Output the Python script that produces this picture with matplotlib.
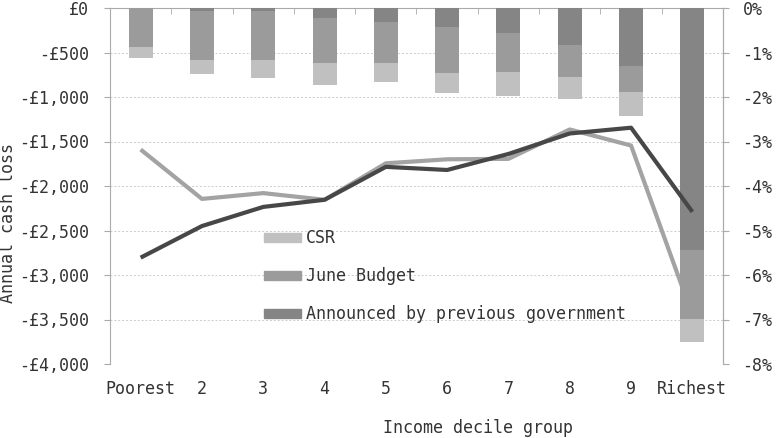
import matplotlib
matplotlib.use("Agg")
import matplotlib.pyplot as plt
from matplotlib.patches import Patch
from matplotlib.transforms import Affine2D
import numpy as np

deciles = ["Poorest", "2", "3", "4", "5", "6", "7", "8", "9", "Richest"]

# annual cash loss per component, £ (stacked from the zero line down)
announced = [0, -34, -34, -112, -157, -213, -285, -419, -652, -2719]
june_budget = [-438, -551, -551, -502, -457, -513, -435, -360, -292, -779]
csr = [-120, -161, -202, -251, -213, -225, -270, -240, -266, -252]

# loss as share of income, %
pct_light = [-3.18, -4.29, -4.16, -4.31, -3.49, -3.40, -3.39, -2.73, -3.09, -6.90]
pct_dark = [-5.61, -4.90, -4.47, -4.31, -3.57, -3.64, -3.28, -2.82, -2.69, -4.58]

y_ticks = [0, -500, -1000, -1500, -2000, -2500, -3000, -3500, -4000]
y_labels = ["£0", "-£500", "-£1,000", "-£1,500", "-£2,000", "-£2,500", "-£3,000", "-£3,500", "-£4,000"]
pct_ticks = [0, -1, -2, -3, -4, -5, -6, -7, -8]
pct_labels = ["0%", "-1%", "-2%", "-3%", "-4%", "-5%", "-6%", "-7%", "-8%"]

c_csr, c_june, c_prev = "#c0c0c0", "#9b9b9b", "#858585"
txt = "#333333"
plt.rcParams["font.family"] = ["DejaVu Sans Mono"]
plt.rcParams["font.size"] = 12

fig = plt.figure(figsize=(7.79, 4.38), dpi=100)
ax = fig.add_axes([110 / 779, 1 - 364 / 438, 613 / 779, 356 / 438])

x = np.arange(len(deciles))
w = 0.39
a = np.array(announced)
j = np.array(june_budget)
ax.bar(x, a, w, color=c_prev, zorder=3)
ax.bar(x, j, w, bottom=a, color=c_june, zorder=3)
ax.bar(x, csr, w, bottom=a + j, color=c_csr, zorder=3)

# percentages drawn on the £ axis via a 1% = £500 scaling
pct_tr = Affine2D().scale(1, 500) + ax.transData
ax.plot(x, pct_light, color="#a3a3a3", lw=3, transform=pct_tr, zorder=2, solid_capstyle="butt")
ax.plot(x, pct_dark, color="#474747", lw=3, transform=pct_tr, zorder=4, solid_capstyle="butt")

ax.set_xlim(-0.5, 9.5)
ax.set_ylim(-4000, 0)
ax.set_yticks(y_ticks)
ax.set_yticklabels(y_labels, color=txt)
ax.grid(axis="y", color="#cccccc", ls=(0, (2, 2)), lw=0.7, zorder=0)

ax.set_xticks(x)
ax.set_xticklabels(deciles, color=txt)
ax.set_xticks(np.arange(-0.5, 10.5, 1), minor=True)
ax.tick_params(axis="x", which="major", bottom=False, top=False, pad=8)
ax.tick_params(axis="x", which="minor", bottom=False, top=True, direction="in", length=4, color="#aaaaaa")
ax.tick_params(axis="y", length=4, color="#aaaaaa", pad=11)

for s in ["left", "right", "top"]:
    ax.spines[s].set_color("#aaaaaa")
ax.spines["bottom"].set_visible(False)

sec = ax.secondary_yaxis("right", functions=(lambda v: v / 500, lambda p: p * 500))
sec.set_yticks(pct_ticks)
sec.set_yticklabels(pct_labels, color=txt)
sec.tick_params(length=4, color="#aaaaaa", pad=10)
sec.spines["right"].set_color("#aaaaaa")

ax.set_ylabel("Annual cash loss", color=txt)
ax.yaxis.set_label_coords(-0.152, 0.396)
ax.set_xlabel("Income decile group", color=txt)
ax.xaxis.set_label_coords(0.6, -0.155)

handles = [Patch(color=c_csr), Patch(color=c_june), Patch(color=c_prev)]
ax.legend(handles, ["CSR", "June Budget", "Announced by previous government"],
          loc="upper left", bbox_to_anchor=(0.251, 0.378), frameon=False,
          borderaxespad=0, borderpad=0, handlelength=2.2, handleheight=0.42,
          handletextpad=0.3, labelspacing=1.2, labelcolor=txt)

fig.savefig("out.png", dpi=100)
